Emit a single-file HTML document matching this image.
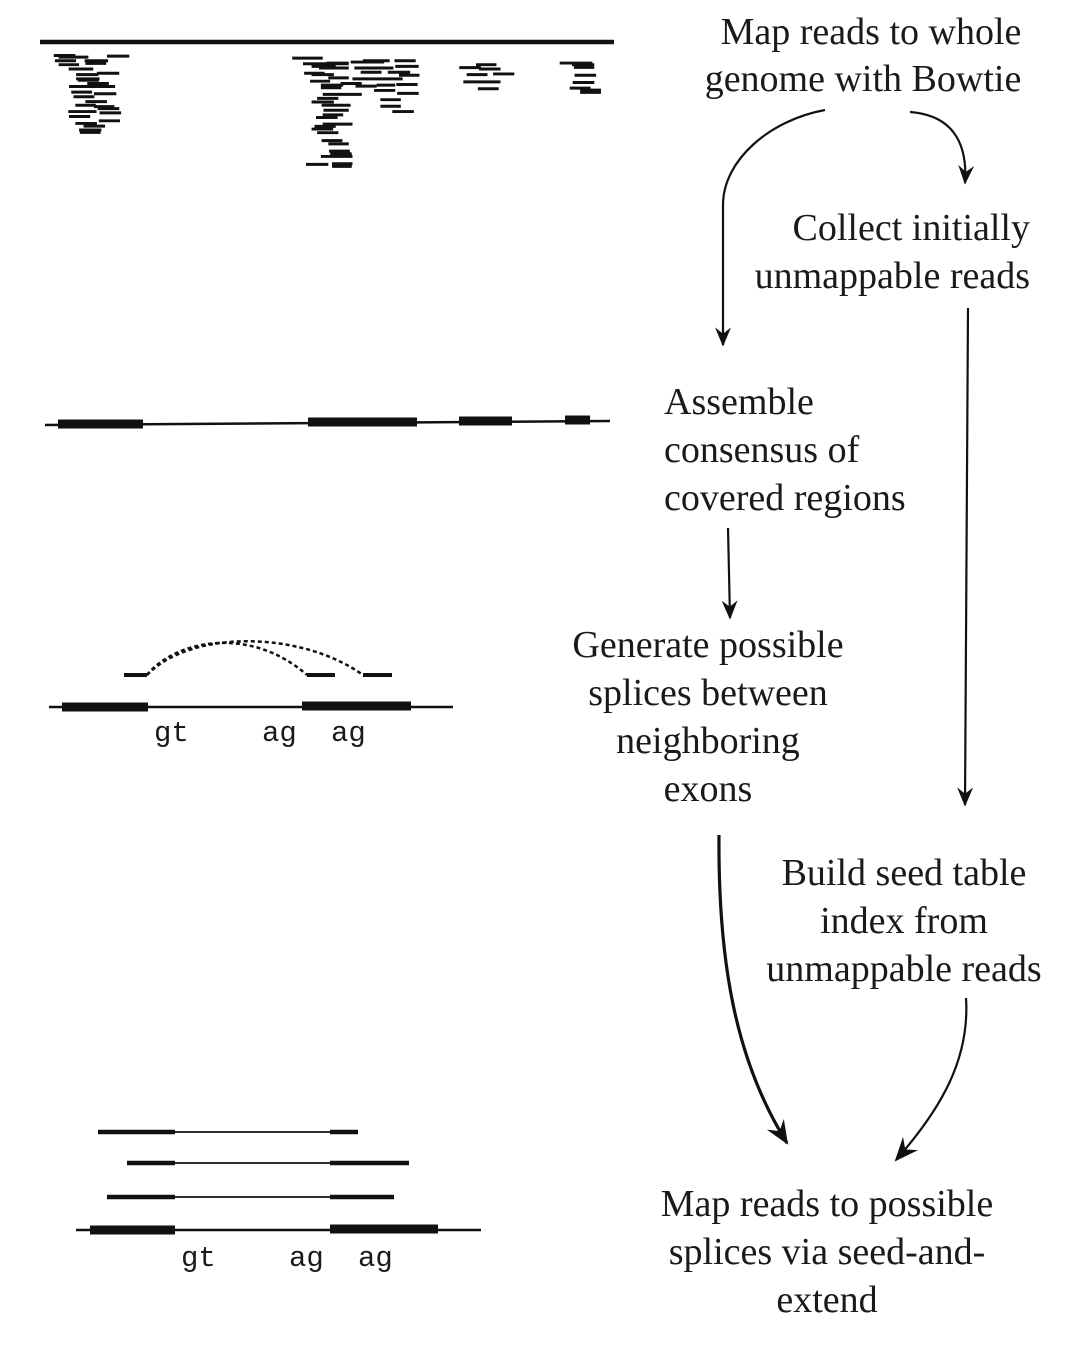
<!DOCTYPE html>
<html><head><meta charset="utf-8"><style>
html,body{margin:0;padding:0;background:#fff}
svg{display:block}
text{font-family:"Liberation Serif",serif;font-size:38px;fill:#1a1a1a}
.m{font-family:"Liberation Mono",monospace;font-size:29px}
</style></head><body>
<svg width="1085" height="1347" viewBox="0 0 1085 1347" xmlns="http://www.w3.org/2000/svg">
<defs>
<marker id="ah" viewBox="0 0 12 10" refX="11" refY="5" markerWidth="20" markerHeight="16" markerUnits="userSpaceOnUse" orient="auto">
<path d="M0,0 L12,5 L0,10 L4,5 z" fill="#111"/>
</marker>
<marker id="ah2" viewBox="0 0 12 10" refX="11" refY="5" markerWidth="24" markerHeight="20" markerUnits="userSpaceOnUse" orient="auto">
<path d="M0,0 L12,5 L0,10 L4,5 z" fill="#111"/>
</marker>
</defs>

<line x1="40" y1="42" x2="614" y2="42" stroke="#111" stroke-width="4.5"/>
<g transform="translate(40,35) scale(0.372,0.33)" stroke="#111" stroke-width="9" fill="none">
<path d="M37 62H95M50 67H130M180 64H240M40 78H97M120 78H183M50 90H105M122 86H178M77 103H143M97 120H157M153 116H213M97 133H160M102 137H158M127 147H185M78 156H202M84 173H140M90 187H146M145 178H205M122 202H180M95 213H150M145 217H200M155 223H213M76 232H152M160 236H218M78 247H135M158 260H215M95 268H153M117 276H175M105 288H165M107 295H163"/>
<path d="M678 70H760M707 87H830M730 95H795M770 85H830M835 82H925M868 78H940M953 78H1010M750 100H830M845 100H950M955 95H1018M710 116H765M730 120H790M862 113H918M935 113H995M965 122H1020M775 130H830M840 133H900M900 133H975M726 140H780M755 152H815M808 147H865M848 155H905M905 152H955M958 150H1015M755 160H810M898 168H955M760 180H865M960 177H1018M745 192H802M730 203H790M915 196H970M757 213H835M915 216H970M762 228H830M947 232H1005M760 242H815M742 250H800M760 270H840M738 277H795M730 285H788M745 296H802M757 320H813M775 330H830M777 352H833M780 360H838M755 368H840M715 392H775M785 390H840M785 398H838"/>
<path d="M1172 90H1227M1127 99H1185M1180 103H1238M1147 120H1203M1218 118H1275M1138 142H1238M1177 163H1233"/>
<path d="M1397 85H1485M1430 90H1490M1435 98H1490M1437 122H1495M1432 144H1490M1424 161H1480M1452 167H1508M1452 174H1508"/>
</g>

<line x1="45" y1="425" x2="610" y2="421" stroke="#111" stroke-width="2.5"/>
<g stroke="#111" stroke-width="9">
<line x1="58" y1="424" x2="143" y2="424"/>
<line x1="308" y1="422" x2="417" y2="422"/>
<line x1="459" y1="421" x2="512" y2="421"/>
<line x1="565" y1="420" x2="590" y2="420"/>
</g>

<line x1="49" y1="707" x2="453" y2="707" stroke="#111" stroke-width="2.5"/>
<g stroke="#111" stroke-width="9">
<line x1="62" y1="707" x2="148" y2="707"/>
<line x1="302" y1="706" x2="411" y2="706"/>
</g>
<g stroke="#111" stroke-width="4">
<line x1="124" y1="675" x2="147" y2="675"/>
<line x1="307" y1="675" x2="335" y2="675"/>
<line x1="363" y1="675" x2="392" y2="675"/>
</g>
<g stroke="#111" stroke-width="2.5" fill="none" stroke-dasharray="4,3">
<path d="M147 675 C175 640 250 625 307 675"/>
<path d="M147 675 C190 630 300 630 363 675"/>
</g>
<text class="m" x="154" y="741">gt</text>
<text class="m" x="262" y="741">ag</text>
<text class="m" x="331" y="741">ag</text>

<line x1="76" y1="1230" x2="481" y2="1230" stroke="#111" stroke-width="2.5"/>
<g stroke="#111" stroke-width="9">
<line x1="90" y1="1230" x2="175" y2="1230"/>
<line x1="330" y1="1229" x2="438" y2="1229"/>
</g>
<g stroke="#111" stroke-width="1.8">
<line x1="175" y1="1132" x2="330" y2="1132"/>
<line x1="175" y1="1163" x2="330" y2="1163"/>
<line x1="175" y1="1197" x2="330" y2="1197"/>
</g>
<g stroke="#111" stroke-width="4.5">
<line x1="98" y1="1132" x2="175" y2="1132"/><line x1="330" y1="1132" x2="358" y2="1132"/>
<line x1="127" y1="1163" x2="175" y2="1163"/><line x1="330" y1="1163" x2="409" y2="1163"/>
<line x1="107" y1="1197" x2="175" y2="1197"/><line x1="330" y1="1197" x2="394" y2="1197"/>
</g>
<text class="m" x="181" y="1266">gt</text>
<text class="m" x="289" y="1266">ag</text>
<text class="m" x="358" y="1266">ag</text>

<text x="871" y="44" text-anchor="middle">Map reads to whole</text>
<text x="863" y="91" text-anchor="middle">genome with Bowtie</text>
<text x="1030" y="240" text-anchor="end">Collect initially</text>
<text x="1030" y="288" text-anchor="end">unmappable reads</text>
<text x="664" y="414">Assemble</text>
<text x="664" y="462">consensus of</text>
<text x="664" y="510">covered regions</text>
<text x="708" y="657" text-anchor="middle">Generate possible</text>
<text x="708" y="705" text-anchor="middle">splices between</text>
<text x="708" y="753" text-anchor="middle">neighboring</text>
<text x="708" y="801" text-anchor="middle">exons</text>
<text x="904" y="885" text-anchor="middle">Build seed table</text>
<text x="904" y="933" text-anchor="middle">index from</text>
<text x="904" y="981" text-anchor="middle">unmappable reads</text>
<text x="827" y="1216" text-anchor="middle">Map reads to possible</text>
<text x="827" y="1264" text-anchor="middle">splices via seed-and-</text>
<text x="827" y="1312" text-anchor="middle">extend</text>

<g stroke="#111" stroke-width="2.2" fill="none">
<path d="M825 110 C770 120 723 160 723 205 L723 345" marker-end="url(#ah)"/>
<path d="M910 112 C950 115 968 140 965 183" marker-end="url(#ah)"/>
<path d="M968 308 L965 805" marker-end="url(#ah)"/>
<path d="M728 528 L730 618" marker-end="url(#ah)"/>
<path d="M966 998 C970 1060 940 1110 896 1160" marker-end="url(#ah2)"/>
</g>
<path d="M719 835 C718 960 735 1060 787 1143" stroke="#111" stroke-width="3.2" fill="none" marker-end="url(#ah2)"/>
</svg>
</body></html>
